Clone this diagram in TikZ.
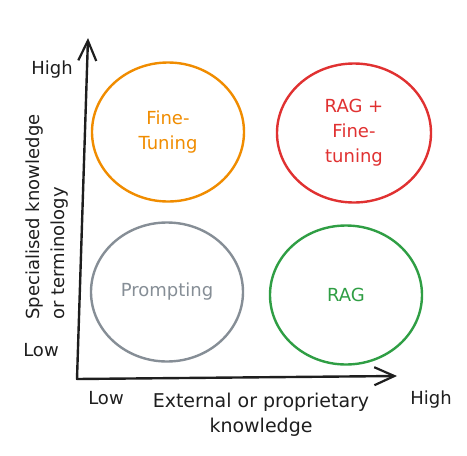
\documentclass[tikz,border=0pt]{standalone}
\usepackage{fontspec}
\setmainfont{DejaVu Sans}
\usetikzlibrary{arrows.meta, shapes.geometric}
\definecolor{inkblack}{HTML}{1E1E1E}
\definecolor{ftorange}{HTML}{F08C00}
\definecolor{ragred}{HTML}{E03131}
\definecolor{raggreen}{HTML}{2F9E44}
\definecolor{promptgray}{HTML}{868E96}
\tikzset{
  labeltext/.style = {align=center, inner sep=0pt, text centered,
    font=\fontsize{18}{25}\selectfont},
  quad_n/.style = {labeltext, ellipse, line width=2.4pt,
    minimum width=152pt, minimum height=139pt},
  axis/.style = {draw=inkblack, line width=2.4pt, line cap=round,
    line join=round}}

\begin{document}
\begin{tikzpicture}[x=1pt,y=-1pt,
  >={Straight Barb[length=20pt,width=18pt,line width=2.2pt]}]
 \useasboundingbox (0,0) rectangle (467,456);

% axes
\coordinate (origin) at (77,379);
\coordinate (ytip) at (88,38);
\coordinate (xtip) at (397,376);
\draw[axis,<->] (ytip) -- (origin) -- (xtip);

% quadrants
\node [quad_n, draw=ftorange, text=ftorange] (finetune) at (168,132) {Fine-\\Tuning};
\node [quad_n, draw=ragred, text=ragred, minimum width=154pt] (ragft) at (354,133)
	{RAG +\\Fine-\\tuning};
\node [quad_n, draw=promptgray, text=promptgray] (prompt) at (167,292) {Prompting};
\node [quad_n, draw=raggreen, text=raggreen] (rag) at (346,295) {RAG};

% axis labels
\node [labeltext, text=inkblack] (yhigh) at (52,70) {High};
\node [labeltext, text=inkblack] (ylow) at (41,350) {Low};
\node [labeltext, text=inkblack, rotate=90, align=left] (ylabel) at (47,217)
	{Specialised knowledge\\or terminology};
\node [labeltext, text=inkblack] (xlow) at (106,398) {Low};
\node [labeltext, text=inkblack, font=\fontsize{19}{25}\selectfont] (xlabel) at (261,415)
	{External or proprietary\\knowledge};
\node [labeltext, text=inkblack] (xhigh) at (431,400) {High};
\end{tikzpicture}
\end{document}
